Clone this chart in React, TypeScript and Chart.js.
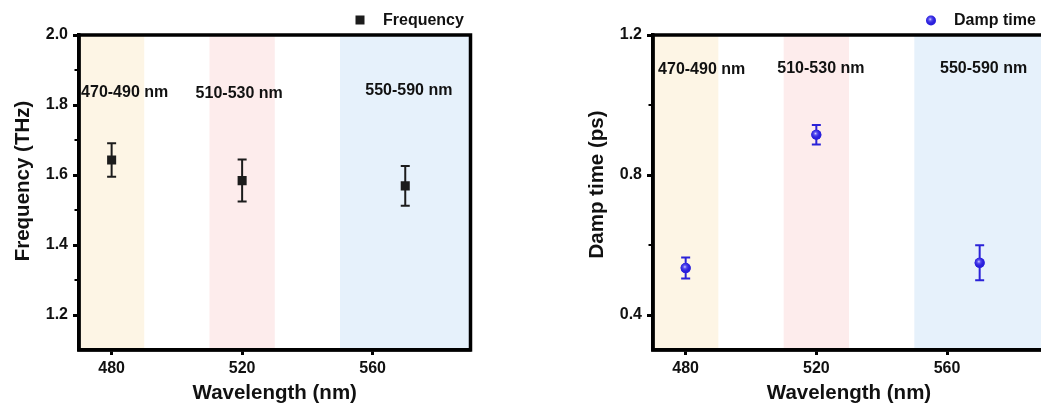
import React, { useEffect, useRef } from "react";
import { Chart, registerables } from "chart.js";

Chart.register(...registerables);

// ---------- data ----------
const wavelengths = [480, 520, 570];
const frequency = [1.643, 1.584, 1.569];
const frequencyErr = [0.048, 0.06, 0.057];
const dampTime = [0.534, 0.915, 0.549];
const dampTimeErr = [0.03, 0.028, 0.05];

const xTicks = [480, 520, 560];
const freqTicks = [1.2, 1.4, 1.6, 1.8, 2.0];
const freqMinorTicks = [1.3, 1.5, 1.7, 1.9];
const dampTicks = [0.4, 0.8, 1.2];
const dampMinorTicks = [0.6, 1.0];

const bandStarts = [470, 510, 550];
const bandEnds = [490, 530, 590];
const bandLabels = ["470-490 nm", "510-530 nm", "550-590 nm"];
const bandColors = ["#FDF5E5", "#FDECEC", "#E6F1FB"];

const FONT = "'Liberation Sans', Arial, Helvetica, sans-serif";

type PanelCfg = {
  canvasLeft: number;
  canvasWidth: number;
  yAxisWidth: number;
  padRight: number;
  yMin: number;
  yMax: number;
  yTicks: number[];
  yMinor: number[];
  values: number[];
  errors: number[];
  label: string;
  yTitle: string;
  yTitleBaseX: number;
  yTitleCenterY: number;
  legendMarkerX: number;
  legendTextX: number;
  color: string;
  errColor: string;
  marker: "rect" | "circle";
  radius: number;
  labelAnchors: number[][];
};

const panels: PanelCfg[] = [
  {
    canvasLeft: 0,
    canvasWidth: 480,
    yAxisWidth: 79,
    padRight: 9.5,
    yMin: 1.1,
    yMax: 2.0,
    yTicks: freqTicks,
    yMinor: freqMinorTicks,
    values: frequency,
    errors: frequencyErr,
    label: "Frequency",
    yTitle: "Frequency (THz)",
    yTitleBaseX: 28.5,
    yTitleCenterY: 181,
    legendMarkerX: 360,
    legendTextX: 383,
    color: "#1c1c1c",
    errColor: "#1c1c1c",
    marker: "rect",
    radius: 6.4,
    labelAnchors: [
      [484.0, 1.824],
      [519.1, 1.821],
      [571.1, 1.829],
    ],
  },
  {
    canvasLeft: 560,
    canvasWidth: 500,
    yAxisWidth: 93,
    padRight: 15,
    yMin: 0.3,
    yMax: 1.2,
    yTicks: dampTicks,
    yMinor: dampMinorTicks,
    values: dampTime,
    errors: dampTimeErr,
    label: "Damp time",
    yTitle: "Damp time (ps)",
    yTitleBaseX: 42.7,
    yTitleCenterY: 184.5,
    legendMarkerX: 371,
    legendTextX: 394,
    color: "#2a1fdc",
    errColor: "#2a22d8",
    marker: "circle",
    radius: 5,
    labelAnchors: [
      [484.9, 1.089],
      [521.4, 1.091],
      [571.2, 1.091],
    ],
  },
];

function drawSphere(ctx: CanvasRenderingContext2D, x: number, y: number, r: number, color: string) {
  ctx.save();
  ctx.beginPath();
  ctx.arc(x, y, r, 0, Math.PI * 2);
  ctx.fillStyle = color;
  ctx.fill();
  const g = ctx.createRadialGradient(x - 0.8, y - 1.2, 0, x - 0.8, y - 1.2, r);
  g.addColorStop(0, "rgba(225,225,255,0.95)");
  g.addColorStop(0.35, "rgba(130,120,255,0.55)");
  g.addColorStop(1, "rgba(40,30,220,0)");
  ctx.beginPath();
  ctx.arc(x, y, r, 0, Math.PI * 2);
  ctx.fillStyle = g;
  ctx.fill();
  ctx.restore();
}

function makeChart(canvas: HTMLCanvasElement, p: PanelCfg) {
  const decor = {
    id: "panelDecor",
    beforeDraw(chart: any) {
      const { ctx, chartArea } = chart;
      const xs = chart.scales.x;
      ctx.save();
      ctx.fillStyle = "#ffffff";
      ctx.fillRect(0, 0, chart.width, chart.height);
      ctx.beginPath();
      ctx.rect(chartArea.left, chartArea.top, chartArea.right - chartArea.left, chartArea.bottom - chartArea.top);
      ctx.clip();
      bandStarts.forEach((s, i) => {
        const x1 = xs.getPixelForValue(s);
        const x2 = xs.getPixelForValue(bandEnds[i]);
        ctx.fillStyle = bandColors[i];
        ctx.fillRect(x1, chartArea.top, x2 - x1, chartArea.bottom - chartArea.top);
      });
      ctx.restore();
    },
    beforeDatasetsDraw(chart: any) {
      const { ctx } = chart;
      const xs = chart.scales.x;
      const ys = chart.scales.y;
      ctx.save();
      ctx.strokeStyle = p.errColor;
      ctx.lineWidth = 2;
      wavelengths.forEach((w, i) => {
        const x = xs.getPixelForValue(w);
        const yt = ys.getPixelForValue(p.values[i] + p.errors[i]);
        const yb = ys.getPixelForValue(p.values[i] - p.errors[i]);
        ctx.beginPath();
        ctx.moveTo(x, yt);
        ctx.lineTo(x, yb);
        ctx.moveTo(x - 4.5, yt);
        ctx.lineTo(x + 4.5, yt);
        ctx.moveTo(x - 4.5, yb);
        ctx.lineTo(x + 4.5, yb);
        ctx.stroke();
      });
      ctx.restore();
    },
    afterDatasetsDraw(chart: any) {
      if (p.marker !== "circle") return;
      const { ctx } = chart;
      const xs = chart.scales.x;
      const ys = chart.scales.y;
      wavelengths.forEach((w, i) => {
        drawSphere(ctx, xs.getPixelForValue(w), ys.getPixelForValue(p.values[i]), p.radius, p.color);
      });
    },
    afterDraw(chart: any) {
      const { ctx, chartArea } = chart;
      const xs = chart.scales.x;
      const ys = chart.scales.y;
      ctx.save();
      // frame
      ctx.strokeStyle = "#000";
      ctx.lineWidth = 3.5;
      ctx.strokeRect(chartArea.left, chartArea.top, chartArea.right - chartArea.left, chartArea.bottom - chartArea.top);
      // minor ticks
      ctx.lineWidth = 2;
      p.yMinor.forEach((v) => {
        const y = ys.getPixelForValue(v);
        ctx.beginPath();
        ctx.moveTo(chartArea.left - 4.5, y);
        ctx.lineTo(chartArea.left, y);
        ctx.stroke();
      });
      // band labels
      ctx.fillStyle = "#111";
      ctx.font = `bold 16px ${FONT}`;
      ctx.textAlign = "center";
      ctx.textBaseline = "alphabetic";
      bandLabels.forEach((t, i) => {
        const a = p.labelAnchors[i];
        ctx.fillText(t, xs.getPixelForValue(a[0]), ys.getPixelForValue(a[1]));
      });
      // y title
      ctx.save();
      ctx.font = `bold 20.5px ${FONT}`;
      ctx.translate(p.yTitleBaseX, p.yTitleCenterY);
      ctx.rotate(-Math.PI / 2);
      ctx.textAlign = "center";
      ctx.fillText(p.yTitle, 0, 0);
      ctx.restore();
      // legend
      if (p.marker === "rect") {
        ctx.fillStyle = p.color;
        ctx.fillRect(p.legendMarkerX - 4.5, 20 - 4.5, 9, 9);
      } else {
        drawSphere(ctx, p.legendMarkerX, 20.5, 5, p.color);
      }
      ctx.fillStyle = "#111";
      ctx.font = `bold 16px ${FONT}`;
      ctx.textAlign = "left";
      ctx.fillText(p.label, p.legendTextX, 25);
      ctx.restore();
    },
  };

  return new Chart(canvas, {
    type: "scatter",
    data: {
      datasets: [
        {
          label: p.label,
          data: wavelengths.map((w, i) => ({ x: w, y: p.values[i] })),
          pointStyle: p.marker,
          pointRadius: p.radius,
          pointHoverRadius: p.radius,
          backgroundColor: p.color,
          borderColor: p.color,
          pointBorderWidth: 0,
          showLine: false,
        },
      ],
    },
    options: {
      responsive: false,
      animation: false,
      events: [],
      layout: { padding: { top: 35, right: p.padRight, bottom: 0, left: 0 } },
      plugins: {
        legend: { display: false },
        tooltip: { enabled: false },
      },
      scales: {
        x: {
          type: "linear",
          min: 470,
          max: 590,
          afterBuildTicks: (s: any) => {
            s.ticks = xTicks.map((v) => ({ value: v }));
          },
          afterFit: (s: any) => {
            s.height = 57;
          },
          grid: {
            drawOnChartArea: false,
            drawTicks: true,
            tickLength: 5,
            tickWidth: 3,
            tickColor: "#000",
          },
          border: { display: true, color: "#000", width: 3.5 },
          ticks: {
            color: "#111",
            font: { family: FONT, size: 16, weight: "bold" },
            padding: 4,
            maxRotation: 0,
            callback: (v: any) => String(v),
          },
          title: {
            display: true,
            text: "Wavelength (nm)",
            color: "#111",
            font: { family: FONT, size: 20.5, weight: "bold" },
            padding: { top: 0, bottom: 1 },
          },
        },
        y: {
          type: "linear",
          min: p.yMin,
          max: p.yMax,
          afterBuildTicks: (s: any) => {
            s.ticks = p.yTicks.map((v) => ({ value: v }));
          },
          afterFit: (s: any) => {
            s.width = p.yAxisWidth;
          },
          grid: {
            drawOnChartArea: false,
            drawTicks: true,
            tickLength: 6,
            tickWidth: 3,
            tickColor: "#000",
          },
          border: { display: true, color: "#000", width: 3.5 },
          ticks: {
            color: "#111",
            font: { family: FONT, size: 16, weight: "bold" },
            padding: 5,
            callback: (v: any) => Number(v).toFixed(1),
          },
          title: { display: false },
        },
      },
    } as any,
    plugins: [decor],
  });
}

function Panel({ cfg }: { cfg: PanelCfg }) {
  const ref = useRef<HTMLCanvasElement | null>(null);
  useEffect(() => {
    if (!ref.current) return;
    const chart = makeChart(ref.current, cfg);
    return () => chart.destroy();
  }, [cfg]);
  return (
    <div style={{ position: "absolute", left: cfg.canvasLeft, top: 0, width: cfg.canvasWidth, height: 407 }}>
      <canvas ref={ref} width={cfg.canvasWidth} height={407} style={{ display: "block" }} />
    </div>
  );
}

export default function App() {
  return (
    <div
      style={{
        position: "fixed",
        left: 0,
        top: 0,
        width: 1041,
        height: 407,
        overflow: "hidden",
        background: "#ffffff",
      }}
    >
      {panels.map((p, i) => (
        <Panel key={i} cfg={p} />
      ))}
    </div>
  );
}
